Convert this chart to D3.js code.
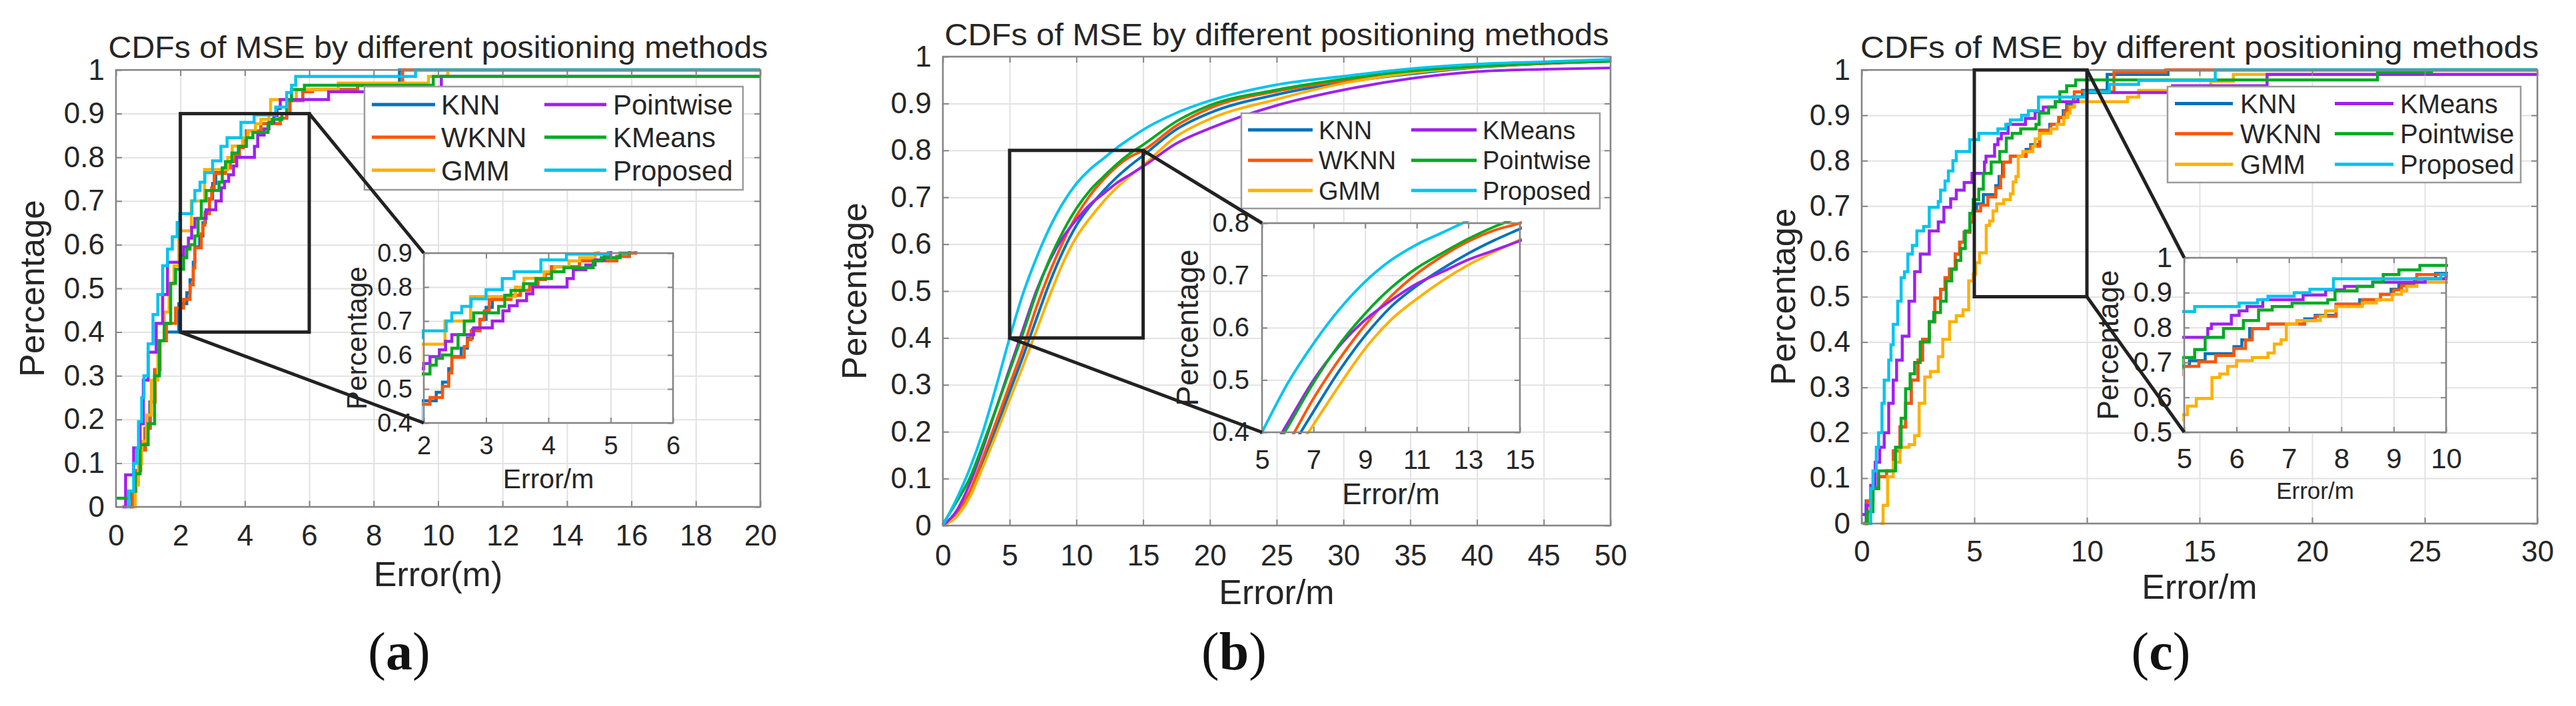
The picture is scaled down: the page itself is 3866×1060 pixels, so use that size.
<!DOCTYPE html>
<html lang="en">
<head>
<meta charset="UTF-8">
<title>CDFs of MSE by different positioning methods</title>
<script src="https://cdn.jsdelivr.net/npm/d3@7"></script>
<style>
  body { margin: 0; background: #fff; }
  svg { display: block; font-family: "Liberation Sans", Arial, Helvetica, sans-serif; }
  .grid line { stroke: #e2e2e2; stroke-width: 2; }
</style>
</head>
<body>
<script>
// ---- data ----
const colors = ["#0072BD", "#FF5500", "#FFB000", "#A020F0", "#00AA22", "#00C4F0"];
const namesA = ["KNN", "WKNN", "GMM", "Pointwise", "KMeans", "Proposed"];
const namesBC = ["KNN", "WKNN", "GMM", "KMeans", "Pointwise", "Proposed"];

const yTicksMain = [0, 0.1, 0.2, 0.3, 0.4, 0.5, 0.6, 0.7, 0.8, 0.9, 1];
const xTicksA = [0, 2, 4, 6, 8, 10, 12, 14, 16, 18, 20];
const xTicksB = [0, 5, 10, 15, 20, 25, 30, 35, 40, 45, 50];
const xTicksC = [0, 5, 10, 15, 20, 25, 30];
const insetXA = [2, 3, 4, 5, 6];
const insetYA = [0.4, 0.5, 0.6, 0.7, 0.8, 0.9];
const insetXB = [5, 7, 9, 11, 13, 15];
const insetYB = [0.4, 0.5, 0.6, 0.7, 0.8];
const insetXC = [5, 6, 7, 8, 9, 10];
const insetYC = [0.5, 0.6, 0.7, 0.8, 0.9, 1];

// (a) empirical CDFs, [error, cumulative share] at each step
const knnA = [[0.43,0],[0.5,0.036],[0.6,0.083],[0.75,0.13],[0.9,0.18],[1.05,0.24],[1.2,0.314],[1.35,0.38],[1.55,0.4],[1.95,0.465],[2.2,0.49],[2.3,0.52],[2.4,0.56],[2.45,0.595],[2.6,0.62],[2.7,0.65],[2.78,0.675],[2.9,0.705],[3.0,0.74],[3.1,0.765],[3.4,0.776],[3.55,0.79],[3.7,0.805],[3.83,0.822],[3.95,0.84],[4.05,0.86],[4.5,0.877],[5.1,0.89],[5.3,0.9],[5.4,0.93],[5.8,0.95],[6.1,0.955],[7.5,0.965],[8.8,1]];
const wknnA = [[0.45,0],[0.52,0.036],[0.62,0.083],[0.77,0.13],[0.92,0.18],[1.07,0.24],[1.22,0.314],[1.37,0.38],[1.57,0.42],[1.85,0.455],[2.1,0.475],[2.3,0.508],[2.4,0.547],[2.45,0.593],[2.65,0.625],[2.7,0.645],[2.76,0.671],[2.9,0.704],[2.97,0.73],[3.05,0.763],[3.4,0.776],[3.55,0.79],[3.7,0.805],[3.83,0.822],[3.95,0.84],[4.05,0.86],[4.5,0.877],[5.1,0.89],[5.3,0.9],[5.4,0.93],[5.8,0.95],[6.1,0.955],[7.5,0.965],[8.9,1]];
const gmmA = [[0.55,0],[0.6,0.05],[0.7,0.1],[0.8,0.15],[0.95,0.21],[1.1,0.29],[1.3,0.38],[1.5,0.446],[1.65,0.51],[1.8,0.552],[1.95,0.632],[2.34,0.7],[2.75,0.772],[3.47,0.8],[3.61,0.826],[3.93,0.845],[4.1,0.86],[4.33,0.877],[4.5,0.887],[4.75,0.9],[4.8,0.932],[5.6,0.955],[6.9,0.97],[9.7,0.985],[10.3,1]];
const pointA = [[0.2,0],[0.3,0.073],[0.55,0.135],[0.75,0.19],[0.85,0.29],[1.0,0.354],[1.25,0.42],[1.45,0.486],[1.6,0.56],[2.0,0.575],[2.1,0.595],[2.25,0.615],[2.35,0.64],[2.45,0.66],[2.8,0.68],[3.1,0.7],[3.27,0.73],[3.37,0.745],[3.5,0.76],[3.65,0.78],[3.75,0.8],[4.3,0.825],[4.4,0.851],[4.6,0.865],[4.75,0.88],[4.9,0.895],[5.0,0.912],[5.1,0.932],[6.6,0.95],[10.1,0.985]];
const kmeansA = [[0,0.02],[0.4,0.036],[0.6,0.076],[0.75,0.142],[1.0,0.19],[1.2,0.3],[1.35,0.38],[1.5,0.42],[1.7,0.512],[1.85,0.544],[2.1,0.57],[2.2,0.59],[2.3,0.6],[2.45,0.62],[2.55,0.66],[2.65,0.7],[2.8,0.724],[3.2,0.743],[3.3,0.776],[3.4,0.79],[3.6,0.81],[3.8,0.825],[4.05,0.845],[4.25,0.857],[4.72,0.877],[4.85,0.887],[5.15,0.9],[5.3,0.93],[5.45,0.955],[5.85,0.965],[9.85,0.985]];
const propA = [[0.34,0],[0.4,0.036],[0.55,0.1],[0.65,0.135],[0.7,0.195],[0.8,0.25],[0.87,0.3],[1.0,0.373],[1.15,0.44],[1.3,0.486],[1.45,0.552],[1.6,0.59],[1.75,0.618],[1.9,0.651],[1.98,0.671],[2.36,0.7],[2.45,0.724],[2.61,0.743],[2.76,0.765],[3.0,0.792],[3.26,0.825],[3.45,0.845],[3.88,0.88],[4.29,0.897],[4.96,0.915],[5.3,0.948],[5.45,0.965],[5.58,0.985],[9.3,1]];

// (b) smooth CDFs sampled at common error values
const errB = [0,1,2,3,4,5,6,7,8,9,10,11,12,13,14,15,17.5,20,25,30,35,40,45,50];
const knnB = [0,0.02,0.065,0.135,0.208,0.285,0.36,0.44,0.518,0.585,0.64,0.68,0.713,0.742,0.767,0.789,0.845,0.88,0.919,0.945,0.963,0.977,0.985,0.99];
const wknnB = [0,0.026,0.072,0.145,0.222,0.3,0.378,0.465,0.54,0.605,0.66,0.703,0.737,0.765,0.786,0.8,0.853,0.89,0.926,0.948,0.966,0.978,0.985,0.99];
const gmmB = [0,0.018,0.06,0.125,0.195,0.268,0.34,0.415,0.49,0.56,0.615,0.655,0.69,0.72,0.745,0.768,0.83,0.867,0.909,0.943,0.965,0.978,0.986,0.99];
const kmeansB = [0,0.03,0.088,0.165,0.25,0.335,0.418,0.5,0.565,0.615,0.652,0.684,0.707,0.73,0.748,0.766,0.815,0.847,0.896,0.929,0.953,0.968,0.973,0.976];
const pointB = [0.003,0.049,0.1,0.173,0.25,0.33,0.41,0.495,0.568,0.627,0.676,0.714,0.743,0.77,0.793,0.812,0.862,0.896,0.929,0.952,0.969,0.979,0.986,0.99];
const propB = [0,0.055,0.12,0.2,0.297,0.4,0.494,0.57,0.635,0.688,0.729,0.759,0.782,0.805,0.825,0.844,0.88,0.906,0.94,0.958,0.974,0.984,0.989,0.994];

// (c) empirical CDFs
const knnC = [[0.06,0],[0.2,0.05],[0.5,0.077],[0.75,0.103],[1.1,0.116],[1.4,0.16],[1.7,0.213],[1.95,0.265],[2.2,0.316],[2.5,0.36],[2.7,0.406],[3.0,0.445],[3.25,0.497],[3.5,0.516],[3.7,0.542],[3.9,0.561],[4.15,0.594],[4.35,0.62],[4.55,0.642],[4.8,0.665],[4.94,0.689],[5.1,0.705],[5.4,0.725],[5.95,0.745],[6.1,0.765],[6.25,0.797],[6.6,0.81],[7.3,0.825],[7.5,0.835],[7.9,0.867],[8.35,0.88],[8.75,0.895],[8.95,0.91],[9.1,0.925],[9.4,0.94],[9.8,0.955],[10.9,0.99],[13.6,1]];
const wknnC = [[0.06,0],[0.25,0.05],[0.5,0.077],[0.75,0.103],[1.1,0.116],[1.4,0.16],[1.7,0.213],[1.95,0.265],[2.2,0.316],[2.5,0.36],[2.7,0.406],[3.0,0.445],[3.25,0.497],[3.5,0.516],[3.7,0.542],[3.9,0.561],[4.15,0.594],[4.35,0.62],[4.55,0.642],[4.8,0.665],[4.94,0.689],[5.28,0.702],[5.6,0.72],[5.95,0.74],[6.17,0.765],[6.3,0.797],[6.6,0.81],[7.3,0.82],[7.5,0.832],[7.9,0.867],[8.4,0.88],[8.75,0.895],[9.0,0.908],[9.15,0.92],[9.44,0.952],[11.2,0.995],[13.5,1]];
const gmmC = [[0.84,0],[0.95,0.04],[1.15,0.103],[1.4,0.135],[1.7,0.168],[2.1,0.174],[2.35,0.194],[2.55,0.265],[2.8,0.323],[3.05,0.335],[3.4,0.368],[3.6,0.406],[3.9,0.445],[4.2,0.458],[4.5,0.471],[4.75,0.535],[4.95,0.55],[5.06,0.575],[5.23,0.597],[5.53,0.657],[5.68,0.667],[5.83,0.689],[6.0,0.705],[6.3,0.714],[6.6,0.727],[6.72,0.753],[6.85,0.765],[6.95,0.81],[7.15,0.82],[7.6,0.832],[7.7,0.848],[7.9,0.86],[8.4,0.87],[8.67,0.88],[8.97,0.895],[9.15,0.905],[9.25,0.918],[9.44,0.93],[11.8,0.94],[12.3,0.955],[15.5,0.975],[16.5,0.99]];
const kmeansC = [[0,0.02],[0.2,0.04],[0.4,0.084],[0.6,0.135],[0.8,0.168],[1.0,0.2],[1.2,0.265],[1.4,0.316],[1.55,0.36],[1.8,0.413],[2.1,0.49],[2.35,0.555],[2.6,0.594],[3.0,0.645],[3.4,0.665],[3.65,0.697],[3.95,0.716],[4.2,0.735],[4.55,0.752],[4.9,0.772],[5.45,0.797],[5.52,0.81],[5.9,0.835],[6.05,0.848],[6.2,0.86],[6.5,0.88],[7.27,0.893],[7.7,0.908],[8.06,0.918],[8.6,0.93],[9.6,0.94],[10.0,0.95],[13.8,0.965],[18.0,0.99]];
const pointC = [[0.13,0],[0.25,0.026],[0.5,0.077],[0.75,0.116],[1.5,0.168],[1.75,0.232],[1.95,0.297],[2.15,0.33],[2.35,0.355],[2.6,0.4],[3.0,0.445],[3.2,0.465],[3.5,0.49],[3.75,0.535],[4.0,0.561],[4.2,0.58],[4.4,0.606],[4.6,0.645],[4.8,0.684],[4.95,0.714],[5.2,0.737],[5.4,0.772],[5.75,0.797],[6.13,0.82],[6.42,0.85],[6.68,0.86],[7.06,0.87],[7.74,0.88],[7.88,0.905],[8.3,0.918],[8.6,0.93],[8.8,0.952],[9.1,0.965],[9.5,0.978],[22.9,0.995],[25.3,1]];
const propC = [[0.32,0],[0.4,0.077],[0.5,0.116],[0.65,0.168],[0.75,0.2],[0.9,0.265],[1.0,0.316],[1.2,0.36],[1.3,0.394],[1.4,0.439],[1.6,0.49],[1.75,0.542],[1.9,0.555],[2.05,0.594],[2.25,0.613],[2.45,0.645],[2.75,0.655],[3.0,0.697],[3.4,0.71],[3.5,0.735],[3.7,0.755],[3.85,0.777],[4.05,0.8],[4.2,0.82],[4.8,0.846],[5.2,0.86],[6.05,0.87],[6.4,0.88],[6.6,0.89],[7.1,0.9],[7.4,0.91],[7.85,0.94],[9.9,0.952],[11.0,0.968],[12.3,0.977],[15.7,1]];

// ---- drawing ----
const axisCol = "#858585", textCol = "#262626";
const svg = d3.select("body").append("svg").attr("width", 3866).attr("height", 1060);
const defs = svg.append("defs");
let clipN = 0;

function clipRect(b, pad) {
    const id = "clip" + (clipN++);
    defs.append("clipPath").attr("id", id).append("rect")
        .attr("x", b.l - pad).attr("y", b.t - pad)
        .attr("width", b.r - b.l + 2 * pad).attr("height", b.b - b.t + 2 * pad);
    return id;
}

const fmtNum = d => d3.format("~g")(+d.toFixed(2));

function drawGrid(g, x, y, b, xt, yt) {
    g.append("g").attr("class", "grid").attr("transform", `translate(0,${b.b})`)
        .call(d3.axisBottom(x).tickValues(xt).tickSize(-(b.b - b.t)).tickFormat(""))
        .call(a => a.select(".domain").remove());
    g.append("g").attr("class", "grid").attr("transform", `translate(${b.l},0)`)
        .call(d3.axisLeft(y).tickValues(yt).tickSize(-(b.r - b.l)).tickFormat(""))
        .call(a => a.select(".domain").remove());
}

function drawLines(g, x, y, b, series, smooth, width) {
    const id = clipRect(b, 3);
    const gl = g.append("g").attr("clip-path", `url(#${id})`);
    const xMax = x.domain()[1];
    const line = d3.line().x(d => x(d[0])).y(d => y(d[1]))
        .curve(smooth ? d3.curveMonotoneX : d3.curveStepAfter);
    series.forEach((s, i) => {
        let pts = s;
        // hold the last level out to the right edge of the axes
        if (!smooth && s[s.length - 1][0] < xMax) pts = s.concat([[xMax, s[s.length - 1][1]]]);
        gl.append("path").datum(pts)
            .attr("fill", "none")
            .attr("stroke", colors[i])
            .attr("stroke-width", width)
            .attr("d", line);
    });
}

function drawFrame(g, x, y, b, xt, yt, o) {
    g.append("rect").attr("x", b.l).attr("y", b.t)
        .attr("width", b.r - b.l).attr("height", b.b - b.t)
        .attr("fill", "none").attr("stroke", axisCol).attr("stroke-width", 2.5);
    const style = a => {
        a.select(".domain").remove();
        a.attr("font-family", null).attr("font-size", o.fs);
        a.selectAll(".tick line").attr("stroke", axisCol).attr("stroke-width", 2);
        a.selectAll(".tick text").attr("fill", textCol);
    };
    g.append("g").attr("transform", `translate(0,${b.b})`)
        .call(d3.axisBottom(x).tickValues(xt).tickSizeInner(-o.tick).tickSizeOuter(0).tickFormat(fmtNum))
        .call(style)
        .call(a => a.selectAll(".tick text").attr("y", o.xOff).attr("dy", null));
    g.append("g").attr("transform", `translate(0,${b.t})`)
        .call(d3.axisTop(x).tickValues(xt).tickSizeInner(-o.tick).tickSizeOuter(0).tickFormat(""))
        .call(style);
    g.append("g").attr("transform", `translate(${b.l},0)`)
        .call(d3.axisLeft(y).tickValues(yt).tickSizeInner(-o.tick).tickSizeOuter(0).tickFormat(fmtNum))
        .call(style)
        .call(a => a.selectAll(".tick text").attr("x", -o.yOff));
    g.append("g").attr("transform", `translate(${b.r},0)`)
        .call(d3.axisRight(y).tickValues(yt).tickSizeInner(-o.tick).tickSizeOuter(0).tickFormat(""))
        .call(style);
}

function yLabel(g, text, xPos, cy, fs) {
    g.append("text")
        .attr("transform", `translate(${xPos},${cy}) rotate(-90)`)
        .attr("text-anchor", "middle").attr("font-size", fs).attr("fill", textCol)
        .text(text);
}

function drawPanel(p) {
    const g = svg.append("g");
    const b = p.box;
    const x = d3.scaleLinear().domain(p.xDomain).range([b.l, b.r]);
    const y = d3.scaleLinear().domain([0, 1]).range([b.b, b.t]);

    drawGrid(g, x, y, b, p.xTicks, yTicksMain);
    drawLines(g, x, y, b, p.series, p.smooth, p.lw);
    drawFrame(g, x, y, b, p.xTicks, yTicksMain, { fs: 44, tick: 9, xOff: p.xOff, yOff: 17 });

    // title and axis labels
    g.append("text").attr("x", (b.l + b.r) / 2).attr("y", p.titleY)
        .attr("text-anchor", "middle").attr("font-size", 46).attr("fill", textCol)
        .attr("textLength", p.titleW).attr("lengthAdjust", "spacingAndGlyphs")
        .text("CDFs of MSE by different positioning methods");
    g.append("text").attr("x", (b.l + b.r) / 2).attr("y", p.xLabelY)
        .attr("text-anchor", "middle").attr("font-size", 52).attr("fill", textCol)
        .text(p.xLabel);
    yLabel(g, "Percentage", p.yLabelX, (b.t + b.b) / 2, 52);

    // zoom rectangle on the main axes
    const z = p.zoom;
    g.append("rect")
        .attr("x", x(z.x[0])).attr("y", y(z.y[1]))
        .attr("width", x(z.x[1]) - x(z.x[0])).attr("height", y(z.y[0]) - y(z.y[1]))
        .attr("fill", "none").attr("stroke", "#222").attr("stroke-width", 5);

    // legend
    const L = p.legend;
    const lg = g.append("g");
    lg.append("rect").attr("x", L.x).attr("y", L.y).attr("width", L.w).attr("height", L.h)
        .attr("fill", "#fff").attr("stroke", "#9a9a9a").attr("stroke-width", 2.5);
    p.names.forEach((name, i) => {
        const col = i < 3 ? 0 : 1, row = i % 3;
        lg.append("line")
            .attr("x1", L.lines[col][0]).attr("x2", L.lines[col][1])
            .attr("y1", L.rows[row]).attr("y2", L.rows[row])
            .attr("stroke", colors[i]).attr("stroke-width", 5);
        lg.append("text").attr("x", L.text[col]).attr("y", L.rows[row])
            .attr("dy", "0.36em").attr("font-size", L.fs).attr("fill", textCol)
            .text(name);
    });

    // inset axes
    const ib = p.inset;
    const xi = d3.scaleLinear().domain(z.x).range([ib.l, ib.r]);
    const yi = d3.scaleLinear().domain(z.y).range([ib.b, ib.t]);
    g.append("rect").attr("x", ib.l).attr("y", ib.t)
        .attr("width", ib.r - ib.l).attr("height", ib.b - ib.t).attr("fill", "#fff");
    drawGrid(g, xi, yi, ib, p.insetX, p.insetY);
    drawLines(g, xi, yi, ib, p.series, p.smooth, p.lw);
    drawFrame(g, xi, yi, ib, p.insetX, p.insetY, { fs: p.insetFs, tick: 8, xOff: p.insetXOff, yOff: p.insetYOff });
    g.append("text").attr("x", (ib.l + ib.r) / 2).attr("y", p.insetXLabelY)
        .attr("text-anchor", "middle").attr("font-size", p.insetXLabelFs).attr("fill", textCol)
        .text("Error/m");
    yLabel(g, "Percentage", p.insetYLabelX, (ib.t + ib.b) / 2, p.insetYLabelFs);

    // connector lines from the zoom box to the inset corners
    p.links.forEach(([pt, corner]) => {
        g.append("line")
            .attr("x1", x(pt[0])).attr("y1", y(pt[1]))
            .attr("x2", ib.l).attr("y2", corner === "tl" ? ib.t : ib.b)
            .attr("stroke", "#222").attr("stroke-width", 5);
    });

    // panel tag
    const tag = g.append("text").attr("x", p.tagX).attr("y", 1005)
        .attr("text-anchor", "middle").attr("font-family", "'Liberation Serif', 'Times New Roman', serif")
        .attr("font-size", 80).attr("fill", "#111");
    tag.append("tspan").text("(");
    tag.append("tspan").attr("font-weight", "bold").text(p.tag);
    tag.append("tspan").text(")");
}

const zipB = ys => errB.map((e, i) => [e, ys[i]]);

const panels = [
    {
        tag: "a", series: [knnA, wknnA, gmmA, pointA, kmeansA, propA], names: namesA, smooth: false, lw: 4.5,
        box: { l: 174, r: 1141, t: 105, b: 761 }, xDomain: [0, 20], xTicks: xTicksA, xOff: 58,
        titleY: 87, titleW: 990, xLabel: "Error(m)", xLabelY: 880, yLabelX: 66, tagX: 599,
        zoom: { x: [2, 6], y: [0.4, 0.9] },
        inset: { l: 636, r: 1010, t: 380, b: 635 }, insetX: insetXA, insetY: insetYA,
        insetFs: 38, insetXOff: 47, insetYOff: 17, insetXLabelY: 733, insetXLabelFs: 41,
        insetYLabelX: 550, insetYLabelFs: 42,
        links: [[[6, 0.9], "tl"], [[2, 0.4], "bl"]],
        legend: { x: 547, y: 130, w: 568, h: 155, lines: [[558, 653], [817, 910]], text: [662, 920], rows: [157, 206, 255.5], fs: 42 }
    },
    {
        tag: "b", series: [knnB, wknnB, gmmB, kmeansB, pointB, propB].map(zipB), names: namesBC, smooth: true, lw: 4,
        box: { l: 1415, r: 2417, t: 85, b: 789 }, xDomain: [0, 50], xTicks: xTicksB, xOff: 60,
        titleY: 68, titleW: 997, xLabel: "Error/m", xLabelY: 907, yLabelX: 1300, tagX: 1852,
        zoom: { x: [5, 15], y: [0.4, 0.8] },
        inset: { l: 1894, r: 2281, t: 335, b: 649 }, insetX: insetXB, insetY: insetYB,
        insetFs: 40, insetXOff: 55, insetYOff: 19, insetXLabelY: 757, insetXLabelFs: 44,
        insetYLabelX: 1798, insetYLabelFs: 46,
        links: [[[15, 0.8], "tl"], [[5, 0.4], "bl"]],
        legend: { x: 1863, y: 170, w: 538, h: 143, lines: [[1873, 1970], [2118, 2216]], text: [1979, 2225], rows: [195, 240.7, 286], fs: 38 }
    },
    {
        tag: "c", series: [knnC, wknnC, gmmC, kmeansC, pointC, propC], names: namesBC, smooth: false, lw: 4.5,
        box: { l: 2794, r: 3808, t: 105, b: 786 }, xDomain: [0, 30], xTicks: xTicksC, xOff: 57,
        titleY: 87, titleW: 1018, xLabel: "Error/m", xLabelY: 899, yLabelX: 2694, tagX: 3243,
        zoom: { x: [5, 10], y: [0.5, 1] },
        inset: { l: 3278, r: 3671, t: 387, b: 649 }, insetX: insetXC, insetY: insetYC,
        insetFs: 42, insetXOff: 54, insetYOff: 18, insetXLabelY: 749, insetXLabelFs: 35,
        insetYLabelX: 3179, insetYLabelFs: 44,
        links: [[[10, 1], "tl"], [[10, 0.5], "bl"]],
        legend: { x: 3253, y: 130, w: 530, h: 144, lines: [[3264, 3351], [3504, 3592]], text: [3362, 3602], rows: [155.5, 200.8, 246.8], fs: 40 }
    }
];

panels.forEach(drawPanel);
</script>
</body>
</html>
